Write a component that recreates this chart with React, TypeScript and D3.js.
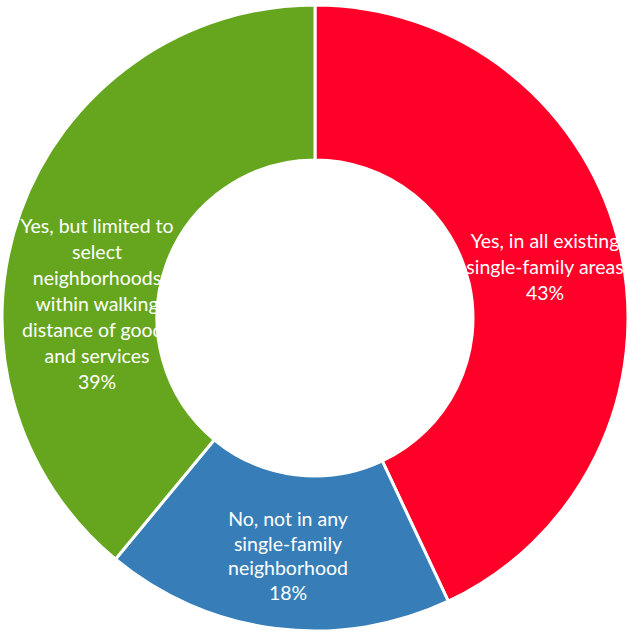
import React from "react";
import * as d3 from "d3";

const categories = [
  "Yes, in all existing single-family areas",
  "No, not in any single-family neighborhood",
  "Yes, but limited to select neighborhoods within walking distance of goods and services",
];
const values = [43, 18, 39];
const labelLines = [
  ["Yes, in all existing", "single-family areas", "43%"],
  ["No, not in any", "single-family", "neighborhood", "18%"],
  ["Yes, but limited to", "select", "neighborhoods", "within walking", "distance of goods", "and services", "39%"],
];
const colors = ["#FF0029", "#377EB8", "#66A61E"];

const W = 628;
const H = 632;
const cx = 315;
const cy = 318;
const outerR = 313;
const innerR = 158;

// [center x, first baseline y, line spacing]
const labelPos: [number, number, number][] = [
  [545, 248, 26],
  [288, 526, 24.5],
  [97, 233, 26],
];

export default function App() {
  const pie = d3.pie<number>().sort(null).value((d) => d)(values);
  const arc = d3.arc<d3.PieArcDatum<number>>().innerRadius(innerR).outerRadius(outerR);
  return (
    <svg
      width={W}
      height={H}
      style={{ position: "absolute", left: 0, top: 0, background: "#fff" }}
      fontFamily="Lato, 'Open Sans', sans-serif"
    >
      <defs>
        {pie.map((p, i) => (
          <clipPath id={`clip${i}`} key={i}>
            <path d={arc(p) || ""} transform={`translate(${cx},${cy})`} />
          </clipPath>
        ))}
      </defs>
      <g transform={`translate(${cx},${cy})`}>
        {pie.map((p, i) => (
          <path key={i} d={arc(p) || ""} fill={colors[i]} stroke="#fff" strokeWidth={3} />
        ))}
      </g>
      {pie.map((p, i) => {
        const lines = labelLines[i];
        const [lx, y0, lh] = labelPos[i];
        return (
          <g key={i} clipPath={`url(#clip${i})`}>
            <text textAnchor="middle" fill="#fff" fontSize={19.5}>
              {lines.map((l, j) => (
                <tspan key={j} x={lx} y={y0 + j * lh}>
                  {l}
                </tspan>
              ))}
            </text>
          </g>
        );
      })}
    </svg>
  );
}
